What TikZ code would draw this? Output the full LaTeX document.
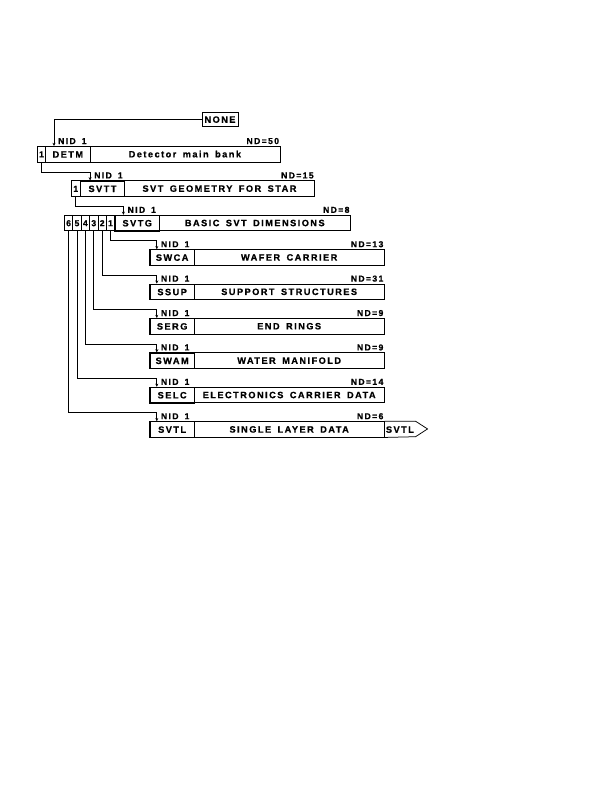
\documentclass[tikz,border=0pt]{standalone}
\usepackage{fontspec}
\setmainfont{Liberation Sans}
\newfontfamily\hf[LetterSpace=16,WordSpace=1.6,FakeBold=0.8]{Liberation Sans}
\usetikzlibrary{arrows.meta,calc}
\begin{document}
\begin{tikzpicture}[x=1pt,y=-1pt,
  every node/.style={font=\hf\bfseries\fontsize{9.2}{10}\selectfont},
  cell/.style={draw,line width=0.75pt,inner sep=0pt,anchor=north west,minimum height=15.5pt,text height=6.5pt,text depth=0pt},
  namebox/.style={cell,line width=1.2pt,minimum width=44.5pt},
  mainbox/.style={cell,minimum width=190pt},
  numbox/.style={cell,minimum width=8.4pt,font=\hf\bfseries\fontsize{8.6}{9}\selectfont},
  lbl/.style={inner sep=0pt,font=\hf\bfseries\fontsize{8.6}{9}\selectfont},
  conn/.style={line width=0.75pt,-{Stealth[length=3.2pt,width=3pt]}}]
\useasboundingbox (0,0) rectangle (612,792);

% NONE
\node[cell,line width=1pt,minimum width=36pt,minimum height=14.5pt,anchor=center] (none) at (220,119.5) {NONE};

% Row 0 : DETM
\node[numbox] (p0) at (37,146) {1};
\node[namebox] (detm) at (45,146) {DETM};
\node[mainbox] (detmm) at (89.5,146) {Detector main bank};
% Row 1 : SVTT
\node[numbox] (p1) at (71.2,180.4) {1};
\node[namebox] (svtt) at (79.6,180.4) {SVTT};
\node[mainbox] (svttm) at (124.1,180.4) {SVT GEOMETRY FOR STAR};
% Row 2 : SVTG
\node[numbox] (q6) at (64,214.8) {6};
\node[numbox] (q5) at (72.4,214.8) {5};
\node[numbox] (q4) at (80.8,214.8) {4};
\node[numbox] (q3) at (89.2,214.8) {3};
\node[numbox] (q2) at (97.6,214.8) {2};
\node[numbox] (q1) at (106,214.8) {1};
\node[namebox] (svtg) at (114.4,214.8) {SVTG};
\node[mainbox,minimum width=191pt] (svtgm) at (158.9,214.8) {BASIC SVT DIMENSIONS};
% children
\node[namebox] (swca) at (149.3,249.2) {SWCA};
\node[mainbox] (swcam) at (193.8,249.2) {WAFER CARRIER};
\node[namebox] (ssup) at (149.3,283.6) {SSUP};
\node[mainbox] (ssupm) at (193.8,283.6) {SUPPORT STRUCTURES};
\node[namebox] (serg) at (149.3,318) {SERG};
\node[mainbox] (sergm) at (193.8,318) {END RINGS};
\node[namebox] (swam) at (149.3,352.4) {SWAM};
\node[mainbox] (swamm) at (193.8,352.4) {WATER MANIFOLD};
\node[namebox] (selc) at (149.3,386.8) {SELC};
\node[mainbox] (selcm) at (193.8,386.8) {ELECTRONICS CARRIER DATA};
\node[namebox] (svtl) at (149.3,421.2) {SVTL};
\node[mainbox] (svtlm) at (193.8,421.2) {SINGLE LAYER DATA};
% SVTL continuation arrow
\draw[line width=0.75pt,line join=miter] (svtlm.north east) -- ++(31,0) -- ++(12,7.75) -- ++(-12,7.75) -- (svtlm.south east);
\node[inner sep=0pt,anchor=west] (svtlc) at ($(svtlm.east)+(1.2,0.3)$) {SVTL};

% NID / ND labels
\foreach \n/\m/\nd/\dx in {detm/detmm/50/9, svtt/svttm/15/10.5, svtg/svtgm/8/9,
    swca/swcam/13/7.5, ssup/ssupm/31/7.5, serg/sergm/9/7.5, swam/swamm/9/7.5,
    selc/selcm/14/7.5, svtl/svtlm/6/7.5}{
  \node[lbl,anchor=base west] (nid\n) at ($(\n.north west)+(\dx+4,-2)$) {NID 1};
  \node[lbl,anchor=base east] (nd\n) at ($(\m.north east)+(-1,-2)$) {ND=\nd};
}

% connectors
\draw[conn] (none.west) -| ([xshift=9pt]detm.north west);
\draw[conn] (p0.south) |- ([xshift=10.5pt,yshift=8.4pt]svtt.north west) -- ([xshift=10.5pt]svtt.north west);
\draw[conn] (p1.south) |- ([xshift=9pt,yshift=8.4pt]svtg.north west) -- ([xshift=9pt]svtg.north west);
\foreach \q/\c in {q1/swca,q2/ssup,q3/serg,q4/swam,q5/selc,q6/svtl}{
  \draw[conn] (\q.south) |- ([xshift=7.5pt,yshift=8.4pt]\c.north west) -- ([xshift=7.5pt]\c.north west);
}
\end{tikzpicture}
\end{document}
